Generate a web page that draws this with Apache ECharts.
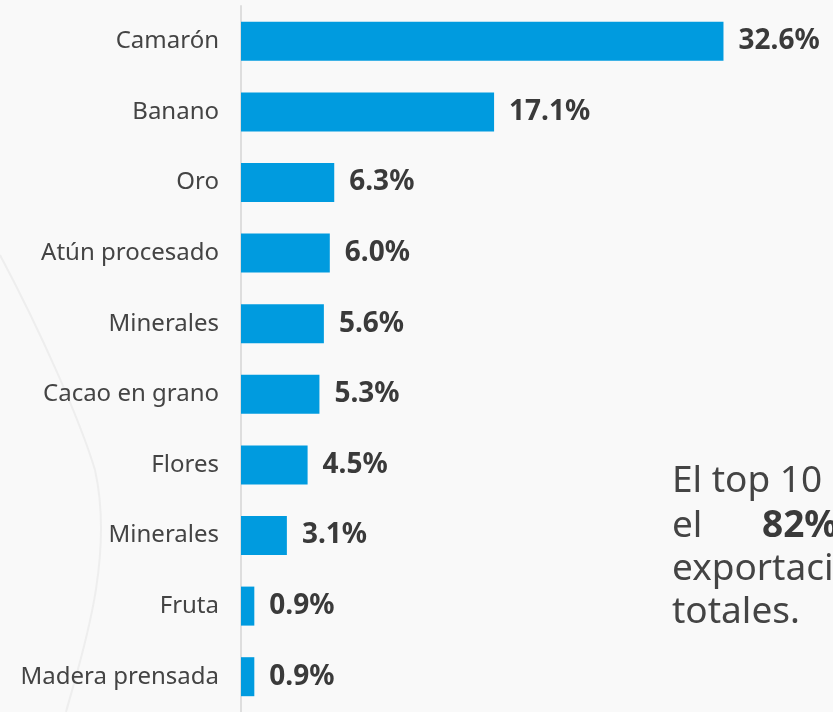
<!DOCTYPE html>
<html>
<head>
<meta charset="utf-8">
<script src="https://cdn.jsdelivr.net/npm/echarts@6/dist/echarts.min.js"></script>
<style>
	html, body { margin: 0; padding: 0; background: #f9f9f9; }
	#chart { width: 833px; height: 712px; }
</style>
</head>
<body>
<div id="chart"></div>
<script>
// top 10 productos de exportación (% del total)
const categories = ['Camarón', 'Banano', 'Oro', 'Atún procesado', 'Minerales', 'Cacao en grano', 'Flores', 'Minerales', 'Fruta', 'Madera prensada']
const shares = [32.6, 17.1, 6.3, 6.0, 5.6, 5.3, 4.5, 3.1, 0.9, 0.9]

const font = '"Noto Sans", "Open Sans", sans-serif'

const myChart = echarts.init(document.getElementById('chart'))

myChart.setOption({
	backgroundColor: '#f9f9f9',
	animation: false,
	textStyle: { fontFamily: font },
	grid: {
		left: 241,
		right: 0,
		top: 6,
		bottom: -3
	},
	xAxis: {
		type: 'value',
		min: 0,
		max: 40,
		show: false
	},
	yAxis: {
		type: 'category',
		inverse: true,
		data: categories,
		axisTick: { show: false },
		axisLine: { lineStyle: { color: '#dedede', width: 2 } },
		axisLabel: {
			margin: 22,
			fontSize: 24,
			color: '#444',
			fontFamily: font
		}
	},
	graphic: [
		{
			type: 'bezierCurve',
			silent: true,
			z: -1,
			shape: { x1: 0, y1: 255, x2: 95, y2: 470, cpx1: 40, cpy1: 330, cpx2: 80, cpy2: 420 },
			style: { stroke: '#eeeeee', lineWidth: 2, fill: null }
		},
		{
			type: 'bezierCurve',
			silent: true,
			z: -1,
			shape: { x1: 95, y1: 470, x2: 66, y2: 712, cpx1: 115, cpy1: 560, cpx2: 80, cpy2: 660 },
			style: { stroke: '#eeeeee', lineWidth: 2, fill: null }
		},
		{
			type: 'text', left: 672, top: 463,
			style: { text: 'El top 10 representa', fontSize: 37, fill: '#444', fontFamily: font }
		},
		{
			type: 'text', left: 672, top: 508,
			style: { text: 'el', fontSize: 37, fill: '#444', fontFamily: font }
		},
		{
			type: 'text', left: 762, top: 508,
			style: { text: '82% de las', fontSize: 37, fontWeight: 'bold', fill: '#3a3a3a', fontFamily: font }
		},
		{
			type: 'text', left: 672, top: 551,
			style: { text: 'exportaciones', fontSize: 37, fill: '#444', fontFamily: font }
		},
		{
			type: 'text', left: 672, top: 594,
			style: { text: 'totales.', fontSize: 37, fill: '#444', fontFamily: font }
		}
	],
	series: [
		{
			type: 'bar',
			data: shares,
			barWidth: 39,
			itemStyle: { color: '#009bdf' },
			label: {
				show: true,
				position: 'right',
				distance: 15,
				formatter: p => p.value.toFixed(1) + '%',
				fontSize: 28,
				fontWeight: 'bold',
				color: '#3a3a3a',
				fontFamily: font
			}
		}
	]
})
</script>
</body>
</html>
